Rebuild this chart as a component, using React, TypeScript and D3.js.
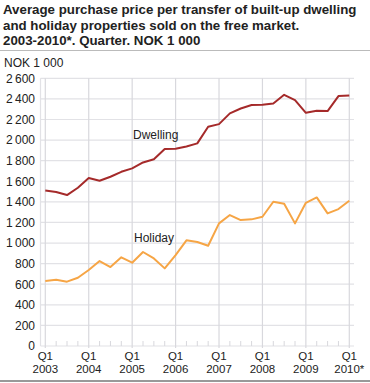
import React from "react";
import * as d3 from "d3";

const years = ["2003", "2004", "2005", "2006", "2007", "2008", "2009", "2010*"];
const yTicks = [0, 200, 400, 600, 800, 1000, 1200, 1400, 1600, 1800, 2000, 2200, 2400, 2600];
const dwelling = [
  1510, 1495, 1466, 1537, 1631, 1605, 1644, 1692, 1725, 1783, 1813, 1913,
  1915, 1938, 1968, 2129, 2155, 2259, 2307, 2340, 2343, 2356, 2440, 2388,
  2265, 2285, 2282, 2427, 2434,
];
const holiday = [
  631, 644, 625, 663, 738, 825, 767, 861, 809, 913, 850, 754,
  883, 1026, 1010, 974, 1191, 1272, 1223, 1230, 1255, 1401, 1382, 1191,
  1391, 1443, 1288, 1330, 1411,
];
const titleLines = [
  "Average purchase price per transfer of built-up dwelling",
  "and holiday properties sold on the free market.",
  "2003-2010*. Quarter. NOK 1 000",
];

export default function App() {
  const W = 370, H = 383;
  const left = 40.5, right = 354;
  const x = d3.scaleLinear().domain([0, 28]).range([45.3, 349.3]);
  const y = d3.scaleLinear().domain([0, 2600]).range([346, 78.3]);
  const line = d3.line<number>().x((_, i) => x(i)).y((d) => y(d));
  const font = "Liberation Sans, Arial, sans-serif";
  const quarters = d3.range(29);
  return (
    <svg width={W} height={H} style={{ position: "absolute", left: 0, top: 0 }} fontFamily={font}>
      <rect width={W} height={H} fill="#fff" />
      {titleLines.map((t, i) => (
        <text key={i} x={3} y={14 + i * 15.5} fontSize={13.3} fontWeight="bold" fill="#222">{t}</text>
      ))}
      <line x1={0} x2={W} y1={50.5} y2={50.5} stroke="#bbb" strokeWidth={1} />
      <text x={4} y={67} fontSize={12} fill="#222">NOK 1 000</text>
      {yTicks.map((t) => (
        <g key={t}>
          <line x1={left} x2={right} y1={y(t)} y2={y(t)} stroke="#e2e2e6" strokeWidth={1.2} />
          <text x={35} y={y(t) + 4.3} fontSize={12} textAnchor="end" fill="#222">
            {d3.format(",")(t).replace(/,/g, "\u2009")}
          </text>
        </g>
      ))}
      <line x1={left} x2={left} y1={78.3} y2={346} stroke="#e2e2e6" strokeWidth={1.2} />
      {quarters.map((q) =>
        q % 4 === 0 ? (
          <line key={q} x1={x(q)} x2={x(q)} y1={78.3} y2={348} stroke="#d8d8dd" strokeWidth={1.2} />
        ) : (
          <line key={q} x1={x(q)} x2={x(q)} y1={341} y2={346} stroke="#d8d8dd" strokeWidth={1} />
        )
      )}
      {years.map((yr, i) => (
        <g key={yr}>
          <text x={x(i * 4)} y={360} fontSize={11.5} textAnchor="middle" fill="#222">Q1</text>
          <text x={x(i * 4)} y={372.5} fontSize={11.5} textAnchor="middle" fill="#222">{yr}</text>
        </g>
      ))}
      <path d={line(dwelling) || ""} fill="none" stroke="#a52a2a" strokeWidth={2} strokeLinejoin="round" />
      <path d={line(holiday) || ""} fill="none" stroke="#f6a545" strokeWidth={2} strokeLinejoin="round" />
      <text x={133} y={138.5} fontSize={12} fill="#222">Dwelling</text>
      <text x={134} y={242} fontSize={12} fill="#222">Holiday</text>
      <line x1={0} x2={W} y1={381} y2={381} stroke="#999" strokeWidth={2} />
    </svg>
  );
}
